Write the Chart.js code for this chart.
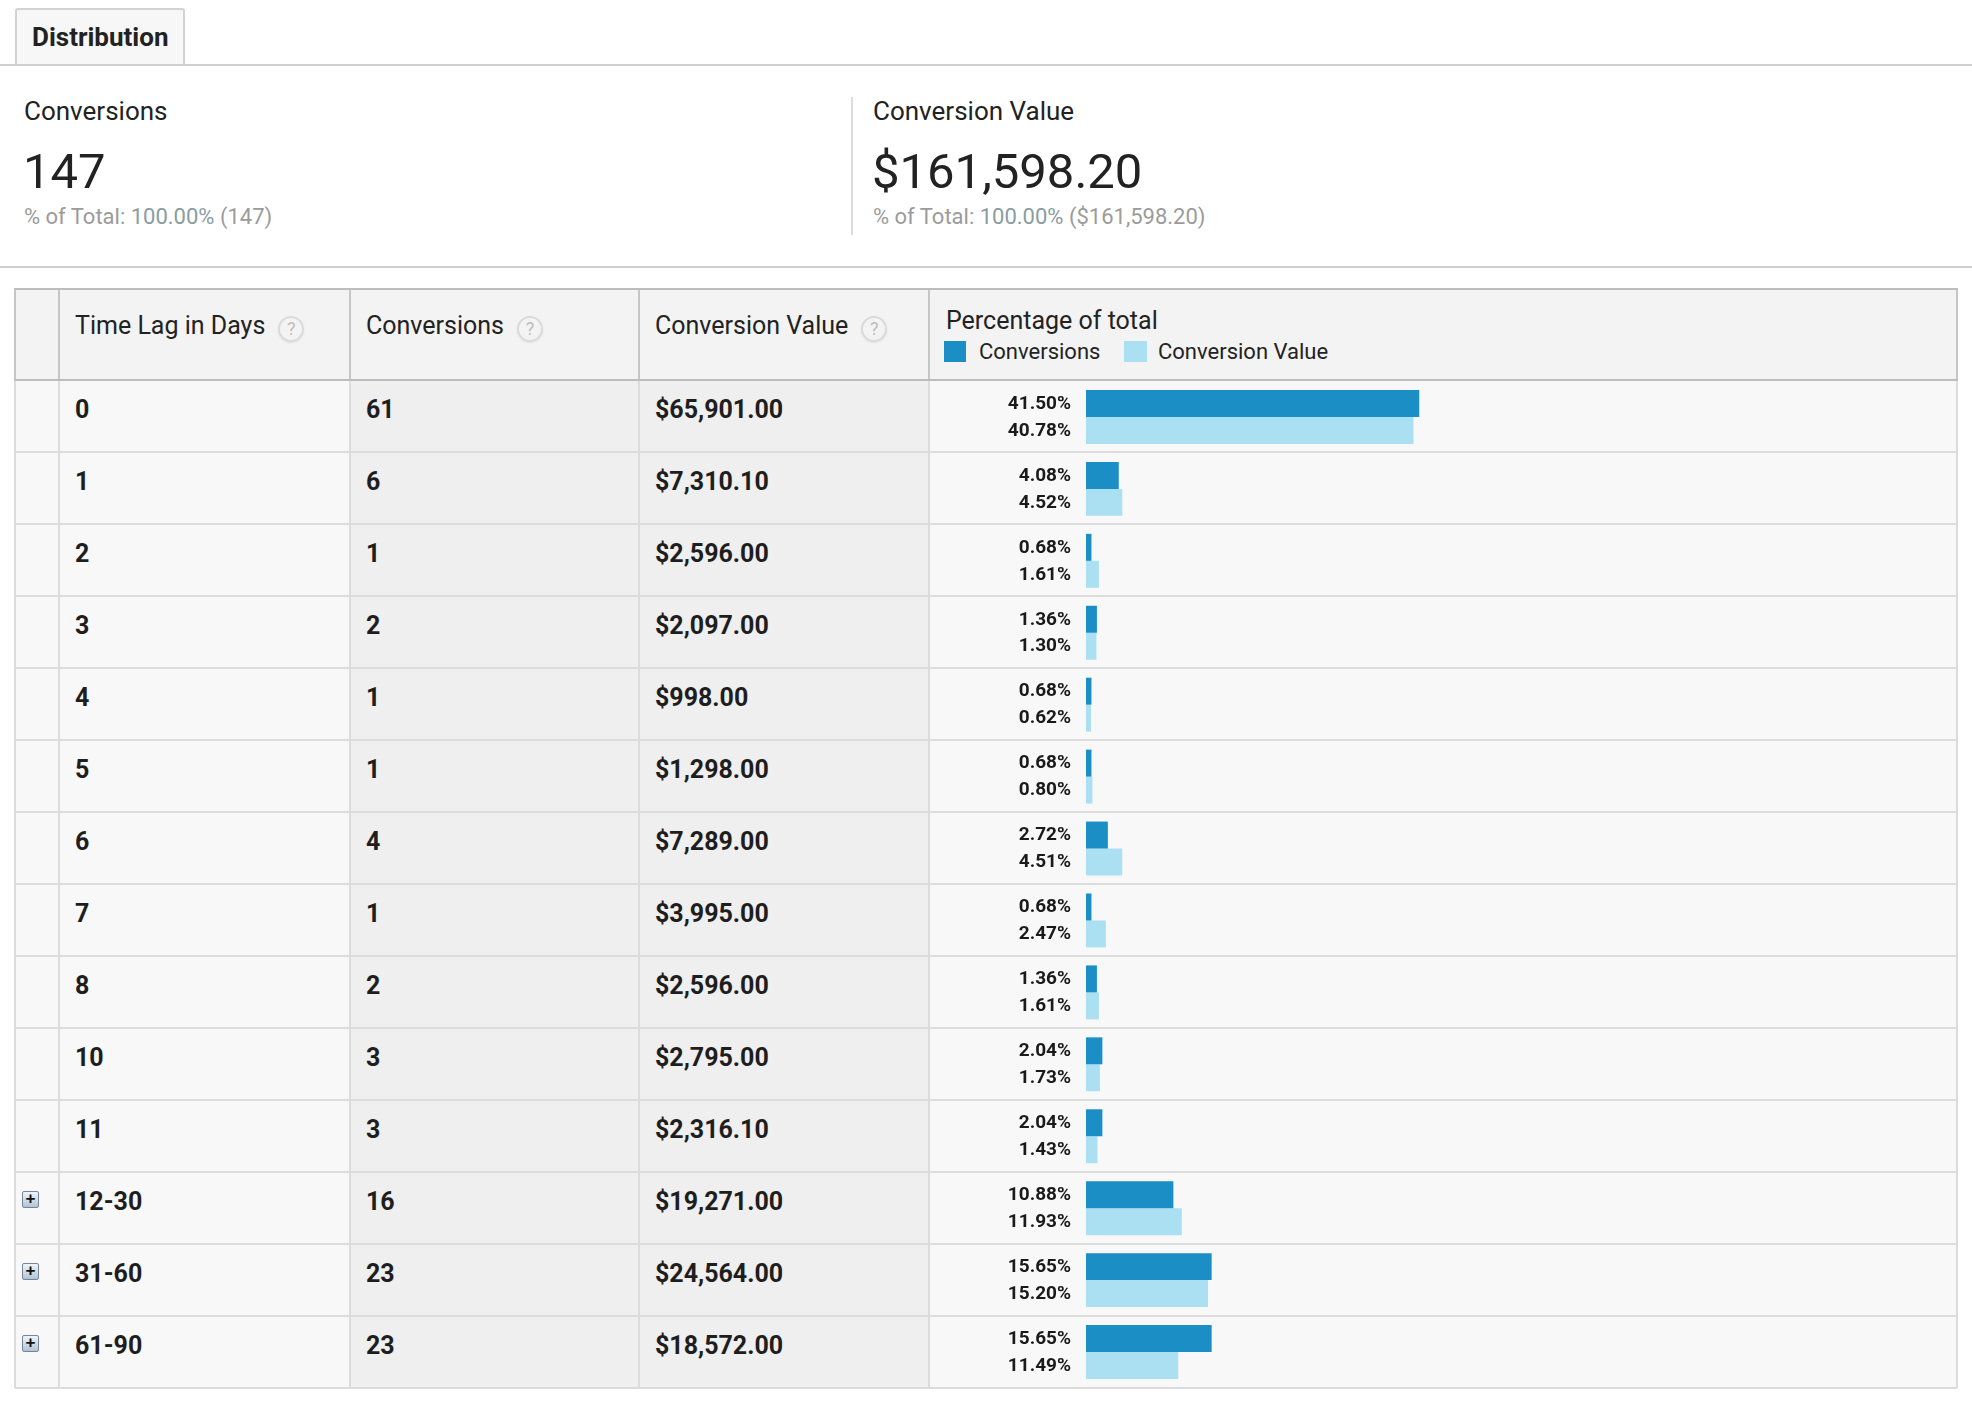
<!DOCTYPE html>
<html>
<head>
<meta charset="utf-8">
<title>Time Lag - Distribution</title>
<script src="https://cdn.jsdelivr.net/npm/chart.js@4.4.1/dist/chart.umd.min.js"></script>
<style>
  html, body { margin: 0; padding: 0; background: #fff; }
  body { font-family: Roboto, "Noto Sans", sans-serif; color: #222; }
  #page { position: relative; width: 1972px; height: 1404px; overflow: hidden; }
  .t { position: absolute; white-space: nowrap; line-height: 1; }
  .q {
    display: inline-block; box-sizing: border-box; width: 26px; height: 26px;
    margin-left: 13px; border: 2px solid #dadada; border-radius: 50%;
    font-size: 18px; line-height: 22px; text-align: center; color: #bdbdbd;
    font-weight: 400; box-shadow: 0 1px 2px rgba(0,0,0,0.08);
    vertical-align: -1px;
  }
  .plus {
    position: absolute; box-sizing: border-box; width: 17px; height: 17px;
    border: 1px solid #74869b; border-radius: 2px;
    background: linear-gradient(#f0f4f8, #b3c3d4);
    font: bold 17px/14px Arial, sans-serif; text-align: center; color: #111;
  }
  #chartBox { position: absolute; left: 929px; top: 380px; width: 1028px; height: 1008px; }
</style>
</head>
<body>
<div id="page">
  <div id="chartBox"><canvas id="myChart"></canvas></div>
</div>
<script>
// data
const timeLags = ["0", "1", "2", "3", "4", "5", "6", "7", "8", "10", "11", "12-30", "31-60", "61-90"];
const conversions = [61, 6, 1, 2, 1, 1, 4, 1, 2, 3, 3, 16, 23, 23];
const conversionValues = [65901.00, 7310.10, 2596.00, 2097.00, 998.00, 1298.00, 7289.00, 3995.00, 2596.00, 2795.00, 2316.10, 19271.00, 24564.00, 18572.00];
const conversionsPct = [41.50, 4.08, 0.68, 1.36, 0.68, 0.68, 2.72, 0.68, 1.36, 2.04, 2.04, 10.88, 15.65, 15.65];
const valuePct = [40.78, 4.52, 1.61, 1.30, 0.62, 0.80, 4.51, 2.47, 1.61, 1.73, 1.43, 11.93, 15.20, 11.49];
const expandable = [false, false, false, false, false, false, false, false, false, false, false, true, true, true];
const totalConversions = 147;
const totalValue = 161598.20;
const columnTitles = ["Time Lag in Days", "Conversions", "Conversion Value"];

const page = document.getElementById("page");
const money = v => "$" + v.toLocaleString("en-US", { minimumFractionDigits: 2, maximumFractionDigits: 2 });

function box(x, y, w, h, bg) {
  const d = document.createElement("div");
  d.style.cssText = `position:absolute;left:${x}px;top:${y}px;width:${w}px;height:${h}px;background:${bg}`;
  page.insertBefore(d, document.getElementById("chartBox"));
  return d;
}
// places text so its baseline sits on `base`
function text(x, base, size, weight, color, html, align) {
  const d = document.createElement("div");
  d.className = "t";
  d.style.fontSize = size + "px";
  d.style.fontWeight = weight;
  d.style.color = color;
  d.style.top = (base - 0.842 * size) + "px";
  if (align === "right") {
    d.style.left = (x - 600) + "px";
    d.style.width = "600px";
    d.style.textAlign = "right";
  } else {
    d.style.left = x + "px";
  }
  d.innerHTML = html;
  page.appendChild(d);
  return d;
}

// tab + summary
const tab = box(15, 8, 170, 58, "#f7f7f7");
tab.style.border = "2px solid #d2d2d2";
tab.style.borderBottom = "none";
tab.style.borderRadius = "3px 3px 0 0";
tab.style.boxSizing = "border-box";
text(32, 46, 26, 700, "#222", "Distribution");
box(0, 64, 1972, 2, "#d0d0d0");

const summary = [
  { x: 24, title: "Conversions", big: String(totalConversions), sub: "(" + totalConversions + ")" },
  { x: 873, title: "Conversion Value", big: money(totalValue), sub: "(" + money(totalValue) + ")" }
];
summary.forEach(s => {
  text(s.x, 120, 26, 400, "#222", s.title);
  text(s.x - 1, 188, 49, 400, "#222", s.big);
  text(s.x, 225, 22, 400, "#9b9b9b",
    '% of Total: <span style="color:#8a9c9e">100.00%</span> ' + s.sub);
});
box(851, 97, 2, 138, "#dddddd");
box(0, 266, 1972, 2, "#d0d0d0");

// table
const edges = [15, 59, 350, 639, 929, 1957];
const headTop = 289, headBottom = 380, rowH = 72;
const tableBottom = headBottom + rowH * timeLags.length;

box(edges[0], headTop, edges[5] - edges[0], headBottom - headTop, "#f3f3f3");
box(edges[0], headBottom, edges[5] - edges[0], tableBottom - headBottom, "#f8f8f8");
box(edges[2], headBottom, edges[4] - edges[2], tableBottom - headBottom, "#efefef");

// grid lines
for (let i = 1; i <= timeLags.length; i++) {
  box(edges[0], headBottom + rowH * i - 1, edges[5] - edges[0], 2, "#dcdcdc");
}
edges.forEach(x => {
  box(x - 1, headBottom, 2, tableBottom - headBottom, "#dcdcdc");
  box(x - 1, headTop - 1, 2, headBottom - headTop + 1, "#c6c6c6");
});
box(edges[0] - 1, headTop - 1, edges[5] - edges[0] + 2, 2, "#bdbdbd");
box(edges[0] - 1, headBottom - 1, edges[5] - edges[0] + 2, 2, "#bdbdbd");

// header texts
columnTitles.forEach((t, i) => {
  text(edges[i + 1] + 16, 334, 25, 400, "#222", t + '<span class="q">?</span>');
});
text(946, 329, 25, 400, "#222", "Percentage of total");
box(944, 341, 22, 21, "#1b8ec6");
text(979, 360, 22, 400, "#222", "Conversions");
box(1124, 341, 23, 21, "#abdff2");
text(1158, 360, 22, 400, "#222", "Conversion Value");

// body texts
timeLags.forEach((lag, i) => {
  const top = headBottom + rowH * i;
  text(edges[1] + 16, top + 38.5, 25, 700, "#1e1e1e", lag);
  text(edges[2] + 16, top + 38.5, 25, 700, "#1e1e1e", String(conversions[i]));
  text(edges[3] + 16, top + 38.5, 25, 700, "#1e1e1e", money(conversionValues[i]));
  if (expandable[i]) {
    const p = document.createElement("div");
    p.className = "plus";
    p.style.left = "22px";
    p.style.top = (top + 19) + "px";
    p.textContent = "+";
    page.appendChild(p);
  }
});

// percentage labels left of each bar
const pctLabels = {
  id: "pctLabels",
  afterDatasetsDraw(chart) {
    const c = chart.ctx;
    c.save();
    c.font = "bold 19px Roboto, sans-serif";
    c.fillStyle = "#1a1a1a";
    c.textAlign = "right";
    c.textBaseline = "middle";
    chart.data.datasets.forEach((ds, di) => {
      chart.getDatasetMeta(di).data.forEach((bar, i) => {
        c.fillText(ds.data[i].toFixed(2) + "%", chart.chartArea.left - 15, bar.y + 0.5);
      });
    });
    c.restore();
  }
};

const ctx = document.getElementById("myChart").getContext("2d");
const myChart = new Chart(ctx, {
  type: "bar",
  data: {
    labels: timeLags,
    datasets: [
      { label: "Conversions", data: conversionsPct, backgroundColor: "#1b8ec6", borderWidth: 0 },
      { label: "Conversion Value", data: valuePct, backgroundColor: "#abdff2", borderWidth: 0 }
    ]
  },
  options: {
    indexAxis: "y",
    responsive: true,
    maintainAspectRatio: false,
    animation: false,
    layout: { padding: { left: 157, right: 68, top: 1, bottom: 0 } },
    datasets: { bar: { barPercentage: 1, categoryPercentage: 0.75 } },
    scales: {
      x: { display: false, min: 0, max: 100 },
      y: { display: false }
    },
    plugins: { legend: { display: false }, tooltip: { enabled: false } }
  },
  plugins: [pctLabels]
});
</script>
</body>
</html>
